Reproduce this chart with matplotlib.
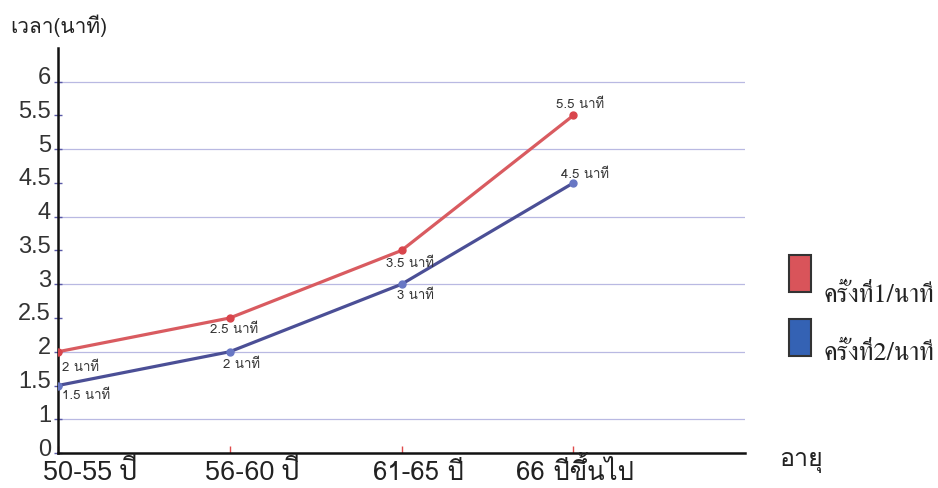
import matplotlib
matplotlib.use("Agg")
import matplotlib.pyplot as plt
from matplotlib.patches import Rectangle
import matplotlib.transforms as mtransforms

# age groups and time (minutes) for both rounds
age_groups = ["50-55 ปี", "56-60 ปี", "61-65 ปี", "66 ปีขึ้นไป"]
round1 = [2, 2.5, 3.5, 5.5]
round2 = [1.5, 2, 3, 4.5]
round1_labels = ["2 นาที", "2.5 นาที", "3.5 นาที", "5.5 นาที"]
round2_labels = ["1.5 นาที", "2 นาที", "3 นาที", "4.5 นาที"]

y_ticks = [0.5, 1, 1.5, 2, 2.5, 3, 3.5, 4, 4.5, 5, 5.5, 6]
y_tick_labels = ["0", "1", "1.5", "2", "2.5", "3", "3.5", "4", "4.5", "5", "5.5", "6"]
legend_names = ["ครั้งที่1/นาที", "ครั้งที่2/นาที"]

red = "#d95b60"
blue = "#4b4f96"
# Loma / FreeSerif stack the Thai tone marks properly without shaping
sans = ["Liberation Sans", "Loma", "DejaVu Sans"]
bigthai = ["Liberation Sans", "Sarabun", "Loma", "DejaVu Sans"]
thai = ["Loma", "DejaVu Sans"]
serif = ["FreeSerif", "Loma", "DejaVu Sans"]

fig = plt.figure(figsize=(9.38, 4.88), dpi=100)
ax = fig.add_axes([0.0618, 0.0717, 0.7325, 0.830])

x = list(range(len(age_groups)))

# horizontal guide lines at whole minutes
for level in range(1, 7):
    ax.axhline(level, color="#b9b9e2", lw=0.9, zorder=1)

ax.plot(x, round1, color=red, lw=2.3, marker="o", ms=5,
        mfc="#d9454c", mec="#d9454c", zorder=3)
ax.plot(x, round2, color=blue, lw=2.3, marker="o", ms=5,
        mfc="#6877c4", mec="#6877c4", zorder=3)

# value labels next to each point (pixel offsets)
r1_off = [(4, -16), (4, -12), (8, -13), (7, 11)]
r2_off = [(4, -10), (12, -13), (14, -12), (12, 8)]
r1_ha = ["left", "center", "center", "center"]
r2_ha = ["left", "center", "center", "center"]
for i in x:
    ax.annotate(round1_labels[i], (i, round1[i]), xytext=r1_off[i],
                textcoords="offset pixels", ha=r1_ha[i], va="center",
                fontsize=9.5, color="#333333", family=thai)
    ax.annotate(round2_labels[i], (i, round2[i]), xytext=r2_off[i],
                textcoords="offset pixels", ha=r2_ha[i], va="center",
                fontsize=9.5, color="#333333", family=thai)

ax.set_xlim(0, 4)
ax.set_ylim(0.5, 6.5)

for side in ["top", "right"]:
    ax.spines[side].set_visible(False)
for side in ["left", "bottom"]:
    ax.spines[side].set_linewidth(1.8)
    ax.spines[side].set_color("#111111")

ax.set_yticks(y_ticks)
ax.set_yticklabels(y_tick_labels, family=sans, fontsize=17, color="#333333")
ax.tick_params(axis="y", direction="inout", length=6, width=1,
               color="#5a5aa8", pad=2)
# numbers sit a little above their tick
lift = mtransforms.ScaledTranslation(0, 6 / 100, fig.dpi_scale_trans)
for lab in ax.get_yticklabels():
    lab.set_transform(lab.get_transform() + lift)

ax.set_xticks(x)
ax.set_xticklabels([])
ax.tick_params(axis="x", direction="in", length=5, width=1, color="#e04a4a")

# category labels under the axis
trans = mtransforms.blended_transform_factory(ax.transData, ax.transAxes)
lab_shift = [0.19, 0.13, 0.10, 0.01]
lab_size = [19.5, 19.5, 18.5, 18.5]
lab_fam = [bigthai, bigthai, thai, thai]
for i in x:
    ax.text(i + lab_shift[i], -0.067, age_groups[i], transform=trans,
            ha="center", va="baseline", fontsize=lab_size[i],
            family=lab_fam[i], color="#222222")

fig.text(0.011, 0.948, "เวลา(นาที)", ha="left", va="center",
         fontsize=15, family=thai, color="#222222")
fig.text(0.831, 0.055, "อายุ", ha="left", va="center",
         fontsize=18, family=thai, color="#222222")

# legend boxes
box_colors = ["#d9545a", "#3462b4"]
box_tops = [255, 319]
text_base = [302, 360]
for name, col, top, base in zip(legend_names, box_colors, box_tops, text_base):
    fig.patches.append(Rectangle((789 / 938, 1 - (top + 37) / 488), 22 / 938, 37 / 488,
                                 transform=fig.transFigure, facecolor=col,
                                 edgecolor="#333333", lw=1.5))
    fig.text(823 / 938, 1 - base / 488, name, ha="left", va="baseline",
             fontsize=18.5, family=serif, color="#222222")

fig.savefig("out.png", dpi=100)
